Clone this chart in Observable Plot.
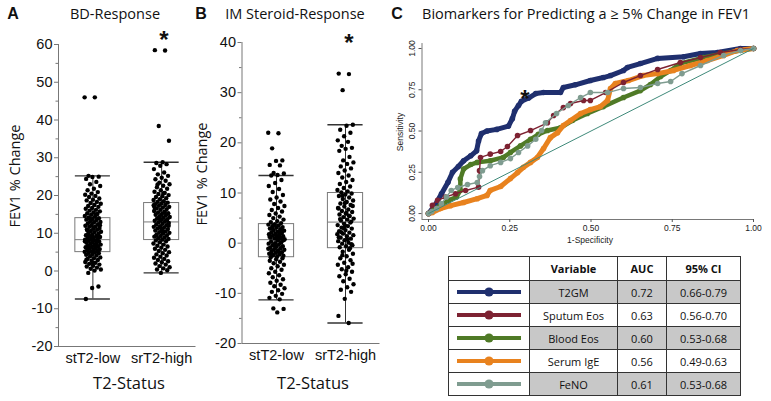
<!DOCTYPE html>
<html><head><meta charset="utf-8">
<script src="https://cdn.jsdelivr.net/npm/d3@7"></script>
<script src="https://cdn.jsdelivr.net/npm/@observablehq/plot@0.6"></script>
<style>
body{margin:0;background:#fff;}
#root{position:relative;width:771px;height:401px;overflow:hidden;background:#fff;font-family:"Open Sans",sans-serif;color:#111;}
.lbl{position:absolute;white-space:nowrap;line-height:1;}
table.roc{position:absolute;border-collapse:collapse;font-family:"Open Sans",sans-serif;font-size:11px;color:#111;table-layout:fixed;}
table.roc td{border:1.5px solid #333;padding:0;text-align:center;vertical-align:middle;}
</style></head><body><div id="root"></div>
<script>
// ---------- data ----------
const categories = ["stT2-low", "srT2-high"];

const bdLow = [46, 46, 25.2, 25.0, 24.9, 24.4, 23.6, 23.0, 22.5, 21.8, 21.4, 20.9, 20.5, 20.2, 19.9, 19.6, 19.2, 18.9, 18.7, 18.3, 18.0, 17.8, 17.5, 17.2, 17.0, 16.7, 16.5, 16.2, 16.0, 15.8, 15.5, 15.3, 15.1, 14.9, 14.6, 14.4, 14.2, 14.0, 13.8, 13.6, 13.5, 13.2, 13.0, 12.9, 12.6, 12.4, 12.2, 12.0, 11.8, 11.7, 11.4, 11.2, 11.0, 10.9, 10.6, 10.4, 10.3, 10.0, 9.9, 9.7, 9.5, 9.3, 9.2, 9.0, 8.8, 8.7, 8.5, 8.4, 8.3, 8.1, 8.0, 7.8, 7.7, 7.5, 7.4, 7.2, 7.0, 6.9, 6.7, 6.6, 6.4, 6.3, 6.1, 6.0, 5.8, 5.7, 5.5, 5.4, 5.2, 5.1, 5.0, 4.8, 4.7, 4.5, 4.3, 4.1, 3.9, 3.6, 3.4, 3.2, 2.9, 2.7, 2.4, 2.2, 1.9, 1.7, 1.4, 1.2, 0.9, 0.6, 0.4, 0.1, -0.5, -4.1, -4.5, -7.4, 15.0, 13.9, 12.1, 11.5, 10.8, 9.4, 8.9, 7.9, 6.8, 6.2, 5.6, 2.1, 3.0];
const bdHigh = [58.5, 58.4, 38.4, 34.5, 28.8, 28.6, 28.3, 27.9, 27.0, 26.1, 25.6, 25.2, 24.7, 24.3, 23.9, 23.4, 23.0, 22.6, 22.2, 21.8, 21.4, 21.0, 20.7, 20.4, 20.1, 19.8, 19.6, 19.3, 19.0, 18.8, 18.5, 18.3, 18.1, 17.9, 17.7, 17.5, 17.3, 17.0, 16.8, 16.6, 16.4, 16.2, 15.9, 15.7, 15.5, 15.3, 15.1, 14.9, 14.7, 14.5, 14.3, 14.1, 13.9, 13.7, 13.5, 13.3, 13.1, 12.9, 12.7, 12.5, 12.3, 12.1, 11.9, 11.7, 11.5, 11.3, 11.1, 10.9, 10.7, 10.5, 10.3, 10.1, 9.9, 9.7, 9.5, 9.3, 9.1, 8.9, 8.7, 8.5, 8.3, 8.1, 7.9, 7.6, 7.3, 7.0, 6.7, 6.5, 6.2, 5.9, 5.6, 5.3, 5.0, 4.7, 4.4, 4.1, 3.8, 3.5, 3.2, 2.9, 2.6, 2.3, 2.0, 1.7, 1.3, 1.0, 0.7, 0.4, 0.2, -0.5, 16.9, 15.6, 14.0, 12.0, 10.6, 9.4, 13.4, 11.6, 17.4, 20.6, 22.9];
const bdQ1 = [5.0, 8.2], bdMed = [8.3, 13.0], bdQ3 = [14.0, 18.0], bdLo = [-7.4, -0.5], bdHi = [25.2, 28.8];

const imLow = [22.0, 21.9, 18.9, 16.5, 16.4, 15.6, 15.5, 14.0, 13.9, 13.6, 13.5, 12.6, 12.0, 11.4, 10.8, 10.2, 9.6, 9.1, 8.7, 8.3, 7.8, 7.4, 7.0, 6.6, 6.3, 5.9, 5.6, 5.3, 5.0, 4.7, 4.4, 4.2, 4.0, 3.8, 3.7, 3.5, 3.4, 3.2, 3.1, 2.9, 2.8, 2.6, 2.5, 2.3, 2.2, 2.0, 1.9, 1.8, 1.6, 1.5, 1.4, 1.2, 1.1, 1.0, 0.9, 0.8, 0.7, 3.0, 2.4, 1.7, 1.3, 2.1, 3.6, 0.6, 0.5, 0.3, 0.2, 0.0, -0.1, -0.3, -0.4, -0.6, -0.7, -0.9, -1.0, -1.2, -1.3, -1.5, -1.6, -1.8, -1.9, -2.1, -2.2, -2.4, -2.5, -2.7, -2.8, 0.1, -0.5, -1.1, -1.7, -2.3, -3.0, -3.2, -3.5, -3.7, -4.0, -4.3, -4.6, -5.0, -5.3, -5.7, -6.0, -6.4, -6.8, -7.2, -7.5, -7.9, -8.3, -8.6, -9.0, -9.4, -9.7, -10.1, -10.5, -10.9, -11.2, -13.0, -13.1, -13.8];
const imHigh = [33.8, 33.7, 30.5, 23.6, 23.4, 22.6, 22.0, 21.3, 20.5, 20.2, 19.4, 19.0, 18.8, 18.4, 17.2, 16.5, 16.1, 15.8, 15.3, 14.9, 14.5, 14.0, 13.5, 13.1, 12.6, 12.2, 11.8, 11.3, 11.0, 10.6, 10.3, 10.1, 9.9, 9.7, 9.4, 9.1, 8.8, 8.5, 8.2, 7.9, 7.6, 7.3, 7.0, 6.7, 6.4, 6.2, 5.9, 5.7, 5.4, 5.2, 4.9, 4.7, 4.5, 4.3, 8.0, 6.9, 5.5, 9.5, 7.4, 6.0, 4.8, 4.1, 3.9, 3.6, 3.4, 3.1, 2.9, 2.6, 2.4, 2.1, 1.9, 1.6, 1.4, 1.1, 0.9, 0.6, 0.4, 0.1, -0.1, -0.4, -0.6, -0.8, -1.0, 3.0, 1.8, 0.7, 2.2, -0.2, 3.5, 1.2, -1.3, -1.7, -2.1, -2.6, -3.0, -3.4, -3.9, -4.3, -4.8, -5.2, -5.7, -6.2, -6.6, -7.1, -7.6, -8.2, -8.8, -9.3, -9.7, -11.1, -14.5, -15.9, -2.4, -4.1, -5.5];
const imQ1 = [-2.8, -1.0], imMed = [0.7, 4.2], imQ3 = [3.8, 10.0], imLo = [-11.3, -15.9], imHi = [13.5, 23.6];

const bdTicks = [-20, -10, 0, 10, 20, 30, 40, 50, 60];
const imTicks = [-20, -10, 0, 10, 20, 30, 40];

// ROC curves (1-specificity, sensitivity)
const rocMarkers = ["T2GM", "Sputum Eos", "Blood Eos", "Serum IgE", "FeNO"];
const aucValues = ["0.72", "0.63", "0.60", "0.56", "0.61"];
const ciValues = ["0.66-0.79", "0.56-0.70", "0.53-0.68", "0.49-0.63", "0.53-0.68"];
const rocColors = ["#1f2f6e", "#7d2232", "#4f7a26", "#e8821e", "#7f9c90"];

const t2gmFpr = [0, 0.02, 0.04, 0.06, 0.074, 0.092, 0.108, 0.13, 0.148, 0.154, 0.163, 0.18, 0.21, 0.246, 0.258, 0.265, 0.277, 0.286, 0.308, 0.33, 0.354, 0.406, 0.415, 0.452, 0.498, 0.538, 0.56, 0.6, 0.612, 0.652, 0.705, 0.785, 0.837, 0.889, 0.96, 1];
const t2gmTpr = [0, 0.05, 0.12, 0.19, 0.25, 0.285, 0.32, 0.35, 0.38, 0.44, 0.485, 0.5, 0.51, 0.53, 0.575, 0.62, 0.655, 0.68, 0.7, 0.727, 0.733, 0.733, 0.764, 0.78, 0.806, 0.824, 0.836, 0.867, 0.885, 0.909, 0.94, 0.95, 0.97, 0.976, 1, 1];
const sputFpr = [0, 0.012, 0.028, 0.052, 0.083, 0.114, 0.154, 0.157, 0.16, 0.19, 0.222, 0.243, 0.274, 0.314, 0.366, 0.385, 0.415, 0.437, 0.477, 0.498, 0.545, 0.6, 0.652, 0.705, 0.775, 0.837, 0.898, 0.96, 1];
const sputTpr = [0, 0.05, 0.08, 0.1, 0.12, 0.14, 0.16, 0.26, 0.34, 0.36, 0.376, 0.406, 0.473, 0.503, 0.55, 0.594, 0.642, 0.667, 0.685, 0.685, 0.733, 0.794, 0.836, 0.873, 0.915, 0.945, 0.976, 0.994, 1];
const bloodFpr = [0, 0.018, 0.037, 0.062, 0.086, 0.098, 0.098, 0.108, 0.13, 0.15, 0.19, 0.23, 0.252, 0.283, 0.314, 0.338, 0.366, 0.406, 0.443, 0.489, 0.538, 0.6, 0.652, 0.683, 0.714, 0.745, 0.775, 0.846, 0.908, 0.96, 1];
const bloodTpr = [0, 0.024, 0.05, 0.08, 0.1, 0.14, 0.21, 0.27, 0.297, 0.31, 0.32, 0.34, 0.37, 0.41, 0.45, 0.48, 0.503, 0.52, 0.564, 0.606, 0.648, 0.703, 0.745, 0.782, 0.83, 0.867, 0.91, 0.945, 0.97, 0.988, 1];
const igeFpr = [0, 0.012, 0.037, 0.068, 0.108, 0.15, 0.18, 0.19, 0.222, 0.252, 0.274, 0.292, 0.314, 0.335, 0.354, 0.375, 0.397, 0.415, 0.437, 0.468, 0.498, 0.529, 0.551, 0.56, 0.575, 0.615, 0.66, 0.705, 0.754, 0.806, 0.858, 0.908, 0.95, 1];
const igeTpr = [0, 0.006, 0.03, 0.048, 0.067, 0.09, 0.11, 0.14, 0.164, 0.212, 0.248, 0.28, 0.31, 0.34, 0.394, 0.46, 0.49, 0.533, 0.564, 0.606, 0.63, 0.648, 0.685, 0.758, 0.788, 0.806, 0.836, 0.848, 0.867, 0.897, 0.927, 0.958, 0.988, 1];
const fenoFpr = [0, 0.01, 0.025, 0.04, 0.055, 0.07, 0.09, 0.12, 0.15, 0.157, 0.166, 0.19, 0.222, 0.252, 0.277, 0.305, 0.33, 0.348, 0.36, 0.394, 0.43, 0.468, 0.498, 0.551, 0.6, 0.652, 0.705, 0.745, 0.78, 0.837, 0.908, 0.96, 1];
const fenoTpr = [0, 0.012, 0.03, 0.06, 0.1, 0.14, 0.158, 0.176, 0.188, 0.224, 0.26, 0.29, 0.31, 0.333, 0.37, 0.41, 0.45, 0.503, 0.55, 0.606, 0.655, 0.703, 0.733, 0.733, 0.758, 0.764, 0.788, 0.8, 0.848, 0.897, 0.958, 0.988, 1];
const rocTicks = [0, 0.25, 0.5, 0.75, 1];

// ---------- layout helpers ----------
const root = document.getElementById("root");
function label(text, x, y, css = {}, rot = 0) {
  const d = document.createElement("div");
  d.className = "lbl";
  d.textContent = text;
  d.style.left = x + "px";
  d.style.top = y + "px";
  d.style.transform = `translate(-50%,-50%)` + (rot ? ` rotate(${rot}deg)` : "");
  Object.assign(d.style, css);
  root.appendChild(d);
  return d;
}
function place(el, left, top) {
  el.style.position = "absolute";
  el.style.left = left + "px";
  el.style.top = top + "px";
  root.appendChild(el);
}
const jitter = i => ((i * 0.6180339887) % 1) - 0.5;

function boxPanel(o) {
  const pts = [];
  o.groups.forEach((vals, gi) => vals.forEach((v, i) => pts.push({g: gi + 1, v, j: jitter(i + gi * 5)})));
  const stats = categories.map((c, i) => ({g: i + 1, q1: o.q1[i], med: o.med[i], q3: o.q3[i], lo: o.lo[i], hi: o.hi[i]}));
  const hw = 0.255;
  const minor = o.ticks.slice(0, -1).map(t => t + 5);
  return Plot.plot({
    width: 200, height: 401,
    marginLeft: o.ml, marginRight: o.mr, marginTop: o.mt, marginBottom: o.mb,
    x: {domain: [0.5, 2.5], axis: null},
    y: {domain: [o.ticks[0], o.ticks[o.ticks.length - 1]], axis: null},
    style: {background: "transparent", overflow: "visible", fontFamily: "'Liberation Sans', Arial, sans-serif", color: "#111"},
    marks: [
      Plot.ruleX([0.5], {stroke: "#777", strokeWidth: 1}),
      Plot.ruleY([o.ticks[0]], {stroke: "#777", strokeWidth: 1}),
      Plot.axisY({ticks: o.ticks, tickSize: 4, tickPadding: 2, fontSize: 14.5, tickFormat: d => String(d), stroke: "#777", fill: "#111", label: null}),
      Plot.axisY({ticks: minor, tickSize: 2.5, tickFormat: () => "", stroke: "#777", label: null}),
      Plot.text(categories, {x: (d, i) => i + 1, y: o.ticks[0], dy: 12, text: d => d, fontSize: 14.5, fill: "#111"}),
      Plot.ruleX(stats, {x: "g", y1: "lo", y2: "hi", stroke: "#333", strokeWidth: 1}),
      Plot.rect(stats, {x1: d => d.g - hw, x2: d => d.g + hw, y1: "q1", y2: "q3", fill: "none", stroke: "#7a7a7a", strokeWidth: 1}),
      Plot.ruleY(stats, {y: "med", x1: d => d.g - hw, x2: d => d.g + hw, stroke: "#7a7a7a", strokeWidth: 1}),
      Plot.ruleY(stats, {y: "lo", x1: d => d.g - hw, x2: d => d.g + hw, stroke: "#333", strokeWidth: 1.4}),
      Plot.ruleY(stats, {y: "hi", x1: d => d.g - hw, x2: d => d.g + hw, stroke: "#333", strokeWidth: 1.4}),
      Plot.dot(pts, {x: d => d.g + d.j * 0.24, y: "v", r: 2.2, fill: "#000", stroke: "none"})
    ]
  });
}

// ---------- panel A ----------
place(boxPanel({groups: [bdLow, bdHigh], q1: bdQ1, med: bdMed, q3: bdQ3, lo: bdLo, hi: bdHi, ticks: bdTicks,
  ml: 58, mr: 4.5, mt: 44, mb: 55}), 0, 0);
// ---------- panel B ----------
place(boxPanel({groups: [imLow, imHigh], q1: imQ1, med: imMed, q3: imQ3, lo: imLo, hi: imHi, ticks: imTicks,
  ml: 51.5, mr: 10.5, mt: 42, mb: 58}), 190, 0);

// ---------- panel C ----------
const rocSeries = [[t2gmFpr, t2gmTpr], [sputFpr, sputTpr], [bloodFpr, bloodTpr], [igeFpr, igeTpr], [fenoFpr, fenoTpr]];
const rocRows = rocSeries.map(([f, t], k) => f.map((x, i) => ({marker: rocMarkers[k], fpr: x, tpr: t[i]})));
const thick = {"T2GM": 5, "Sputum Eos": 1.4, "Blood Eos": 4.5, "Serum IgE": 5, "FeNO": 1.4};
const drawOrder = [0, 2, 3, 1, 4];
const rocMarks = [];
drawOrder.forEach(k => {
  rocMarks.push(Plot.line(rocRows[k], {x: "fpr", y: "tpr", stroke: "marker", strokeWidth: thick[rocMarkers[k]], strokeLinejoin: "round"}));
  rocMarks.push(Plot.dot(rocRows[k], {x: "fpr", y: "tpr", fill: "marker", r: 2.8, stroke: "none"}));
});
const C = Plot.plot({
  width: 381, height: 250, marginLeft: 31.5, marginRight: 18, marginTop: 48, marginBottom: 31,
  x: {domain: [-0.02, 1], axis: null},
  y: {domain: [-0.036, 1], axis: null},
  color: {domain: rocMarkers, range: rocColors},
  style: {background: "transparent", overflow: "visible", fontFamily: "'Liberation Sans', Arial, sans-serif", color: "#222"},
  marks: [
    Plot.ruleX([-0.02], {y1: -0.036, y2: 1.03, stroke: "#555", strokeWidth: 0.8}),
    Plot.ruleY([-0.036], {x1: -0.02, x2: 1, stroke: "#555", strokeWidth: 0.8}),
    Plot.axisX({ticks: rocTicks, tickSize: 3, tickPadding: 2, fontSize: 8.5, tickFormat: d => d.toFixed(2), stroke: "#555", fill: "#222", label: null}),
    Plot.axisY({ticks: rocTicks, tickSize: 3, tickFormat: () => "", stroke: "#555", label: null}),
    Plot.text(rocTicks, {x: -0.02, y: d => d, text: d => d.toFixed(2), rotate: -90, dx: -10, fontSize: 8.5, fill: "#222"}),
    ...rocMarks,
    Plot.link([0], {x1: 0, y1: 0, x2: 1, y2: 1, stroke: "#3f8a7a", strokeWidth: 1})
  ]
});
place(C, 390, 0);

// ---------- table ----------
const table = document.createElement("table");
table.className = "roc";
table.style.left = "448px"; table.style.top = "256px"; table.style.width = "292px";
const colW = [81, 88, 49, 74];
const cg = document.createElement("colgroup");
colW.forEach(w => { const c = document.createElement("col"); c.style.width = w + "px"; cg.appendChild(c); });
table.appendChild(cg);
const hdr = table.insertRow();
hdr.style.height = "24px";
["", "Variable", "AUC", "95% CI"].forEach(t => { const c = hdr.insertCell(); c.textContent = t; c.style.fontWeight = "700"; });
rocMarkers.forEach((m, i) => {
  const r = table.insertRow();
  r.style.height = "23px";
  const sw = r.insertCell();
  sw.innerHTML = `<svg width="66" height="12" style="display:block;margin:auto"><line x1="1" x2="65" y1="6" y2="6" stroke="${rocColors[i]}" stroke-width="4"/><circle cx="33" cy="6" r="4.6" fill="${rocColors[i]}"/></svg>`;
  [m, aucValues[i], ciValues[i]].forEach(t => {
    const c = r.insertCell(); c.textContent = t;
    if (i % 2 === 0) c.style.background = "#c8c8c8";
  });
});
root.appendChild(table);

// ---------- texts ----------
const titleCss = {fontFamily: "'Open Sans', sans-serif", fontSize: "14.5px", color: "#111"};
const letterCss = {fontFamily: "'Liberation Sans', Arial, sans-serif", fontSize: "16px", fontWeight: "700", color: "#111"};
label("A", 13, 14, letterCss);
label("B", 201, 14, letterCss);
label("C", 397, 14, letterCss);
label("BD-Response", 115, 14, titleCss);
label("IM Steroid-Response", 295, 14, titleCss);
label("Biomarkers for Predicting a \u2265 5% Change in FEV1", 586, 14, titleCss);
label("FEV1 % Change", 15, 176, titleCss, -90);
label("FEV1 % Change", 202, 174, titleCss, -90);
label("T2-Status", 129, 383, {fontFamily: "'Open Sans', sans-serif", fontSize: "16.5px"});
label("T2-Status", 313, 383, {fontFamily: "'Open Sans', sans-serif", fontSize: "16.5px"});
const smallCss = {fontFamily: "'Liberation Sans', Arial, sans-serif", fontSize: "8.5px", color: "#222"};
label("Sensitivity", 400, 132, smallCss, -90);
label("1-Specificity", 590, 240, smallCss);
const starCss = {fontFamily: "'Liberation Sans', Arial, sans-serif", fontSize: "24px", fontWeight: "700", color: "#111"};
label("*", 164, 40, starCss);
label("*", 349, 43, starCss);
label("*", 525, 99, starCss);
</script></body></html>
